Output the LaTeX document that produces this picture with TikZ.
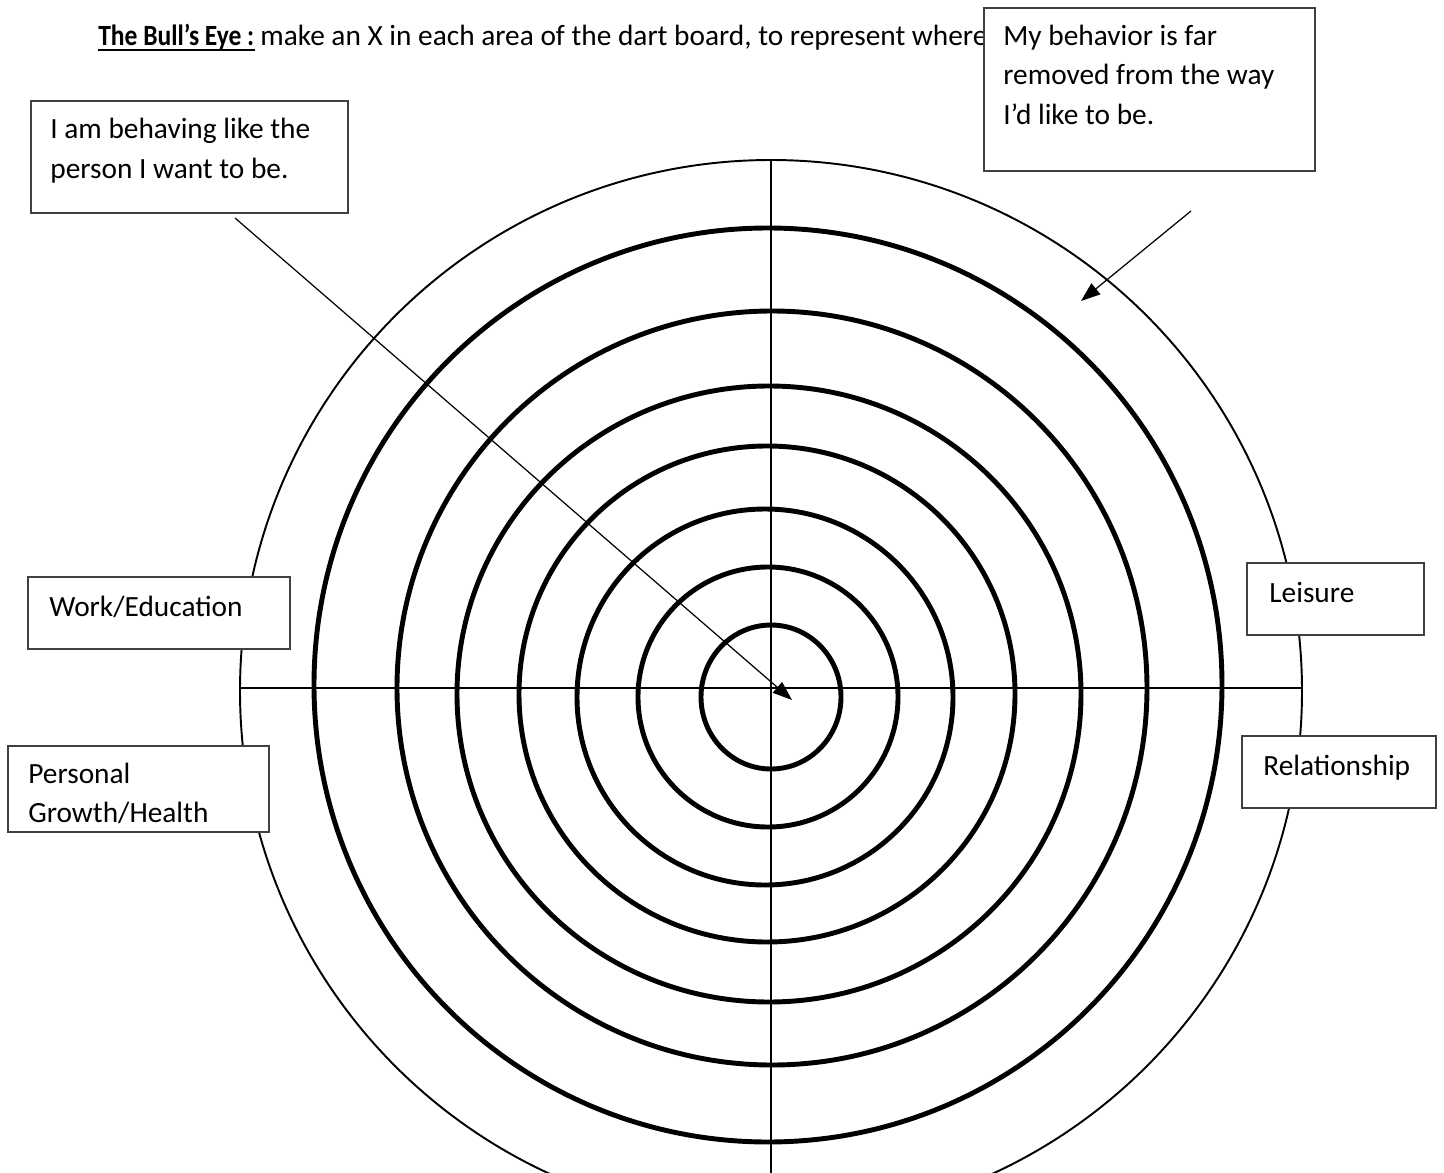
\documentclass[tikz,border=0pt]{standalone}
\usepackage{fontspec}
\setmainfont{Carlito}
\usetikzlibrary{arrows.meta}

\tikzset{
  ring/.style={line width=2.8pt},
  rim/.style={line width=1.1pt},
  axis/.style={line width=1.3pt},
  tagbox/.style={draw=black!75, fill=white, line width=0.8pt},
  tagtext/.style={anchor=base west, align=left, inner sep=0pt,
    font=\fontsize{16.7}{22.2}\selectfont},
  pointer/.style={line width=0.7pt, -{Triangle[length=11pt,width=8pt]}},
}

\begin{document}
\begin{tikzpicture}[x=0.02cm, y=-0.02cm]
  \clip (0,0) rectangle (1444,1173);

  % Rings of the board
  \draw[rim] (771,691) circle [radius=531];
  \foreach \cx/\cy/\rx/\ry in {771/697/70/72, 768/697/130/130, 765/697/188/188,
      767/694/248/248, 769/694/312/308, 772/688/375/377, 768/685/454/457}
    \draw[ring] (\cx,\cy) ellipse [x radius=\rx, y radius=\ry];

  % Cross
  \draw[axis] (240,688) -- (1303,688);
  \draw[axis] (771,160) -- (771,1173);

  % Title (multi-line nodes sit on their last baseline)
  \node[tagtext] (title) at (98,45) {\scalebox{0.87}[1]{\bfseries The Bull’s Eye :}};
  \draw[line width=1.1pt] ([yshift=-2.8pt]title.base west) -- ([yshift=-2.8pt]title.base east);
  \node[tagtext] (header) at (260,45) {make an X in each area of the dart board, to represent where};

  % Label boxes
  \filldraw[tagbox] (31,101) rectangle (348,213);
  \node[tagtext] (want) at (50,178) {I am behaving like the\\person I want to be.};
  \filldraw[tagbox] (984,8) rectangle (1315,171);
  \node[tagtext] (faraway) at (1003,124) {My behavior is far\\removed from the way\\I’d like to be.};
  \filldraw[tagbox] (28,577) rectangle (290,649);
  \node[tagtext] (work) at (49,616) {Work/Education};
  \filldraw[tagbox] (8,746) rectangle (269,832);
  \node[tagtext] (growth) at (28,822) {Personal\\Growth/Health};
  \filldraw[tagbox] (1247,563) rectangle (1424,635);
  \node[tagtext] (leisure) at (1269,602) {Leisure};
  \filldraw[tagbox] (1242,736) rectangle (1436,808);
  \node[tagtext] (relation) at (1263,775) {Relationship};

  % Pointers
  \coordinate (wanttail) at (235,218);
  \coordinate (bullseye) at (792,700);
  \draw[pointer] (wanttail) -- (bullseye);
  \coordinate (fartail) at (1191,211);
  \coordinate (outerring) at (1081,301);
  \draw[pointer] (fartail) -- (outerring);
\end{tikzpicture}
\end{document}
